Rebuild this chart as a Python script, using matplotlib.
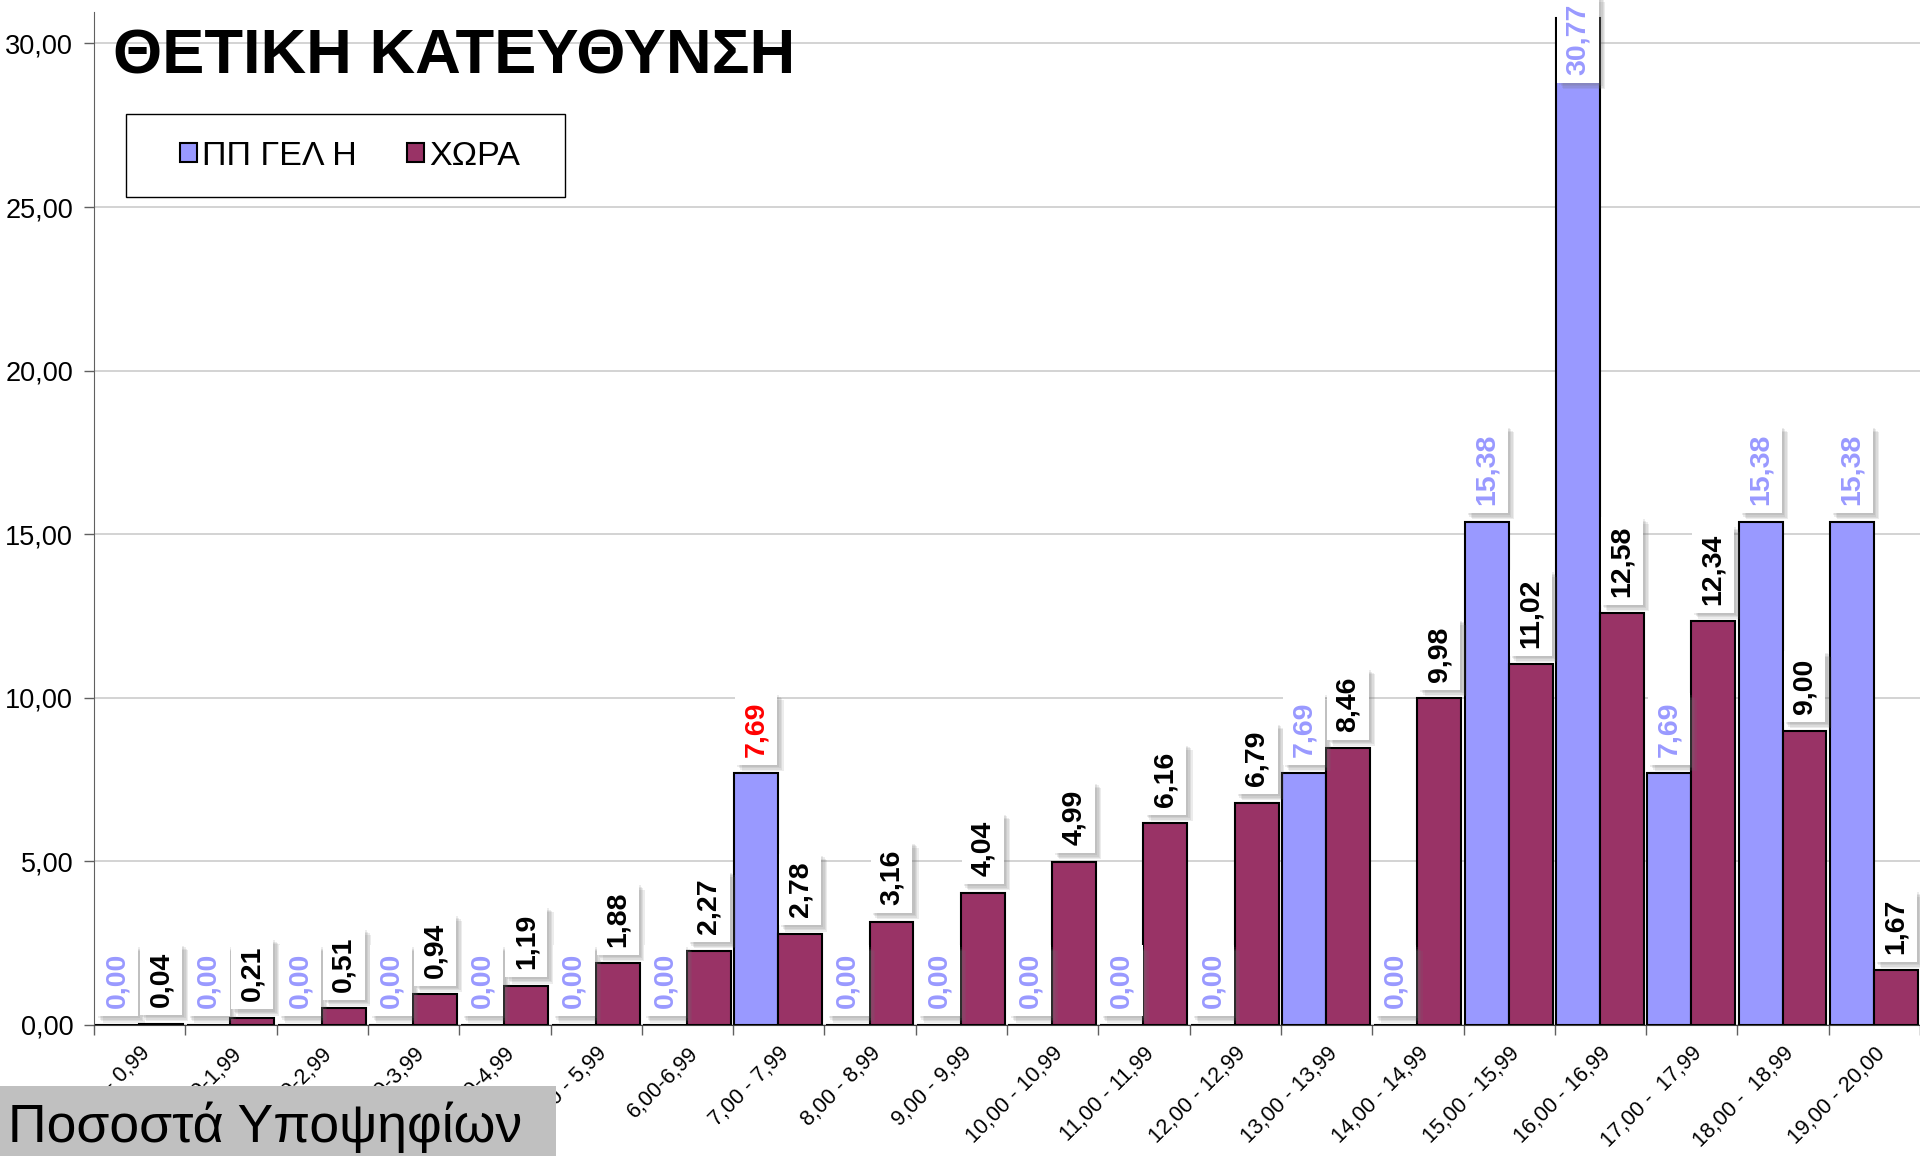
import matplotlib
matplotlib.use('Agg')
import matplotlib.pyplot as plt
from matplotlib import font_manager
from matplotlib.patches import Rectangle
from matplotlib.ticker import FuncFormatter
import matplotlib.patheffects as pe
import numpy as np

# ---------------- data ----------------
categories = ["0,00 - 0,99", "1,00-1,99", "2,00-2,99", "3,00-3,99", "4,00-4,99",
              "5,00 - 5,99", "6,00-6,99", "7,00 - 7,99", "8,00 - 8,99", "9,00 - 9,99",
              "10,00 - 10,99", "11,00 - 11,99", "12,00 - 12,99", "13,00 - 13,99",
              "14,00 - 14,99", "15,00 - 15,99", "16,00 - 16,99", "17,00 -  17,99",
              "18,00 -  18,99", "19,00 - 20,00"]
school = [0.00, 0.00, 0.00, 0.00, 0.00, 0.00, 0.00, 7.69, 0.00, 0.00,
          0.00, 0.00, 0.00, 7.69, 0.00, 15.38, 30.77, 7.69, 15.38, 15.38]
country = [0.04, 0.21, 0.51, 0.94, 1.19, 1.88, 2.27, 2.78, 3.16, 4.04,
           4.99, 6.16, 6.79, 8.46, 9.98, 11.02, 12.58, 12.34, 9.00, 1.67]
series_names = ["ΠΠ ΓΕΛ Η", "ΧΩΡΑ"]
yticks = [0, 5, 10, 15, 20, 25, 30]
highlight_index = 7          # school label shown in red
title = "ΘΕΤΙΚΗ ΚΑΤΕΥΘΥΝΣΗ"
corner_note = "Ποσοστά Υποψηφίων"

# ---------------- style ----------------
BLUE = "#9999FF"
MAROON = "#993366"
W, H = 1920, 1156

names = {f.name for f in font_manager.fontManager.ttflist}
if "Liberation Sans Narrow" in names:
    LBL_FAMILY, LBL_SIZE = "Liberation Sans Narrow", 25
else:
    LBL_FAMILY, LBL_SIZE = "Liberation Sans", 20.5
BASE = "Liberation Sans"
plt.rcParams["font.family"] = [BASE, "DejaVu Sans"]

fig = plt.figure(figsize=(W / 100, H / 100), dpi=100)
ax_top_px, ax_bot_px, ax_left_px = 11.7, 1025, 94
ax = fig.add_axes([ax_left_px / W, 1 - ax_bot_px / H, 1826 / W, (ax_bot_px - ax_top_px) / H])

x = np.arange(len(categories))
bw = 0.48
ax.bar(x - 0.245, school, bw, color=BLUE, edgecolor="black", linewidth=1.5, zorder=3,
       label=series_names[0])
ax.bar(x + 0.235, country, bw, color=MAROON, edgecolor="black", linewidth=1.5, zorder=3,
       label=series_names[1])

ytop = 30.97
ax.set_ylim(0, ytop)
ax.set_xlim(-0.5, len(categories) - 0.5)

fmt = lambda v: f"{v:.2f}".replace(".", ",")

shadow = [pe.SimplePatchShadow(offset=(d, -d), shadow_rgbFace="#707070", alpha=0.13)
          for d in (4.5, 3.5, 2.5, 1.5)] + [pe.Normal()]


def add_label(xp, v, color):
    kw = dict(rotation=90, ha="center", fontsize=LBL_SIZE, fontweight="bold",
              family=[LBL_FAMILY, "DejaVu Sans"], color=color, annotation_clip=False,
              zorder=6)
    if v + 2.6 > ytop:
        a = ax.annotate(fmt(v), xy=(xp, 1), xycoords=ax.get_xaxis_transform(),
                        xytext=(0, 6), textcoords="offset points", va="top", **kw)
    else:
        a = ax.annotate(fmt(v), xy=(xp, v), xytext=(0, 12), textcoords="offset points",
                        va="bottom", **kw)
    a.set_bbox(dict(boxstyle="square,pad=0.28", fc="white", ec="none"))
    a.get_bbox_patch().set_path_effects(shadow)


for i in range(len(categories)):
    add_label(x[i] - 0.245, school[i], "red" if i == highlight_index else BLUE)
    add_label(x[i] + 0.235, country[i], "black")

# axes styling
ax.set_yticks(yticks)
ax.yaxis.set_major_formatter(FuncFormatter(lambda v, p: fmt(v)))
ax.tick_params(axis="y", labelsize=19.5, length=7, pad=8, color="#606060", width=1)
ax.yaxis.grid(True, color="#C8C8C8", linewidth=1.1)
ax.set_axisbelow(True)

ax.set_xticks(np.arange(len(categories) + 1) - 0.5)
ax.set_xticklabels([])
ax.set_xticks(x, minor=True)
ax.set_xticklabels(categories, minor=True, rotation=45, ha="right",
                   rotation_mode="anchor", fontsize=15.5)
ax.tick_params(axis="x", which="minor", length=0, pad=13)
ax.tick_params(axis="x", which="major", length=7, color="#606060", width=1)

for s in ("top", "right"):
    ax.spines[s].set_visible(False)
ax.spines["left"].set_color("#606060")
ax.spines["bottom"].set_color("#404040")

# title
fig.text(113 / W, 1 - 73 / H, title, fontsize=45.5, fontweight="bold",
         va="baseline", ha="left", zorder=7)

# legend with frame
fig.add_artist(Rectangle((126 / W, 1 - 197 / H), (565 - 126) / W, (197 - 114) / H,
                         transform=fig.transFigure, fc="white", ec="black", lw=1,
                         zorder=5))
h, l = ax.get_legend_handles_labels()
leg = fig.legend(h, l, loc="center", bbox_to_anchor=(350 / W, 1 - 156 / H), ncol=2,
                 frameon=False, prop=dict(family=BASE, size=24.5), handlelength=0.5,
                 handleheight=0.5, handletextpad=0.15, columnspacing=1.5, borderpad=0)
leg.set_zorder(6)

# corner grey box
fig.add_artist(Rectangle((0, 0), 556 / W, (1156 - 1086) / H, transform=fig.transFigure,
                         fc="#C0C0C0", ec="none", zorder=5))
fig.text(8 / W, 1 - 1142 / H, corner_note, fontsize=38.5, va="baseline", ha="left",
         zorder=6)

fig.savefig("out.png", dpi=100)
